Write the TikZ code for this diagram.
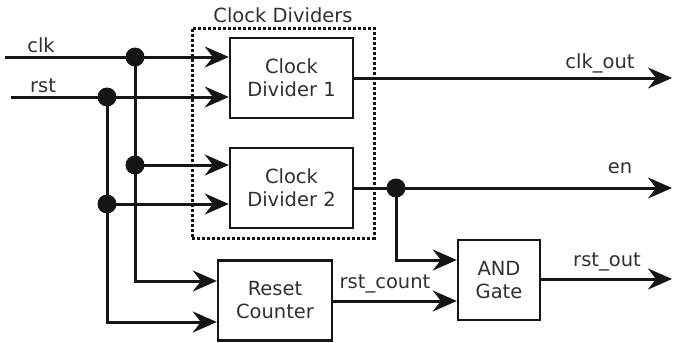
\documentclass[tikz,border=0pt]{standalone}
\usepackage{fontspec}
\setmainfont{DejaVu Sans}
\usetikzlibrary{arrows.meta}
\definecolor{wirec}{HTML}{151515}
\definecolor{txtc}{HTML}{303030}
\begin{document}
\begin{tikzpicture}[x=1pt,y=-1pt,
  wire/.style={line width=3pt, draw=wirec},
  sig/.style={wire, -{Stealth[length=24pt,width=21pt,inset=8pt]}},
  blk/.style={draw=wirec, line width=2.4pt, fill=white, align=center,
    font=\fontsize{19.5}{23}\selectfont, text=txtc, inner sep=0pt},
  lbl/.style={font=\fontsize{19.5}{23}\selectfont, text=txtc, inner sep=0pt},
  junction/.style={circle, fill=wirec, minimum size=19pt, inner sep=0pt},
  group/.style={draw=wirec, line width=3pt, dash pattern=on 3pt off 2pt}
]
\useasboundingbox (0,0) rectangle (673,343);

% grouping frame for the two dividers
\node[group, minimum width=182pt, minimum height=210pt] (grp) at (283,133) {};
\node[lbl] (grplbl) at (283,15) {Clock Dividers};

% blocks
\node[blk, minimum width=123pt, minimum height=80pt] (cd1) at (291.5,78) {Clock\\Divider 1};
\node[blk, minimum width=123pt, minimum height=80pt] (cd2) at (291.5,188) {Clock\\Divider 2};
\node[blk, minimum width=114pt, minimum height=80pt] (rc) at (275,300.5) {Reset\\Counter};
\node[blk, minimum width=82pt, minimum height=80pt] (and) at (499,280) {AND\\Gate};

% wire endpoints and junctions
\coordinate (clkin) at (5,57);
\coordinate (rstin) at (11,97);
\coordinate (jclk1) at (135,57);
\coordinate (jclk2) at (135,165);
\coordinate (jrst1) at (107,97);
\coordinate (jrst2) at (107,204);
\coordinate (clkbend) at (135,281);
\coordinate (rstbend) at (107,322);
\coordinate (jen) at (396,188);
\coordinate (enbend) at (396,260);
\coordinate (clkout) at (672,78);
\coordinate (enout) at (672,188);
\coordinate (rstout) at (672,279);

% inputs
\draw[wire] (clkin) -- (jclk1);
\draw[wire] (rstin) -- (jrst1);
\draw[sig] (jclk1) -- (jclk1 -| cd1.west);
\draw[sig] (jrst1) -- (jrst1 -| cd1.west);
\draw[wire] (jclk1) -- (jclk2);
\draw[wire] (jrst1) -- (jrst2);
\draw[sig] (jclk2) -- (jclk2 -| cd2.west);
\draw[sig] (jrst2) -- (jrst2 -| cd2.west);
\draw[sig] (jclk2) -- (clkbend) -- (clkbend -| rc.west);
\draw[sig] (jrst2) -- (rstbend) -- (rstbend -| rc.west);

% outputs
\draw[sig] (cd1.east) -- (clkout);
\draw[sig] (cd2.east) -- (enout);
\draw[sig] (jen) -- (enbend) -- (enbend -| and.west);
\draw[sig] (rc.east |- 0,301) coordinate (rcout) -- (rcout -| and.west);
\draw[sig] (and.east |- rstout) -- (rstout);

% junction dots
\foreach \j in {jclk1,jclk2,jrst1,jrst2,jen}
  \node[junction] at (\j) {};

% signal labels
\node[lbl] (lclk) at (41,45) {clk};
\node[lbl] (lrst) at (43,86) {rst};
\node[lbl] (lclkout) at (600,63) {clk\_out};
\node[lbl] (len) at (620,168) {en};
\node[lbl] (lrstout) at (607,262) {rst\_out};
\node[lbl] (lrstcount) at (385,284) {rst\_count};
\end{tikzpicture}
\end{document}
